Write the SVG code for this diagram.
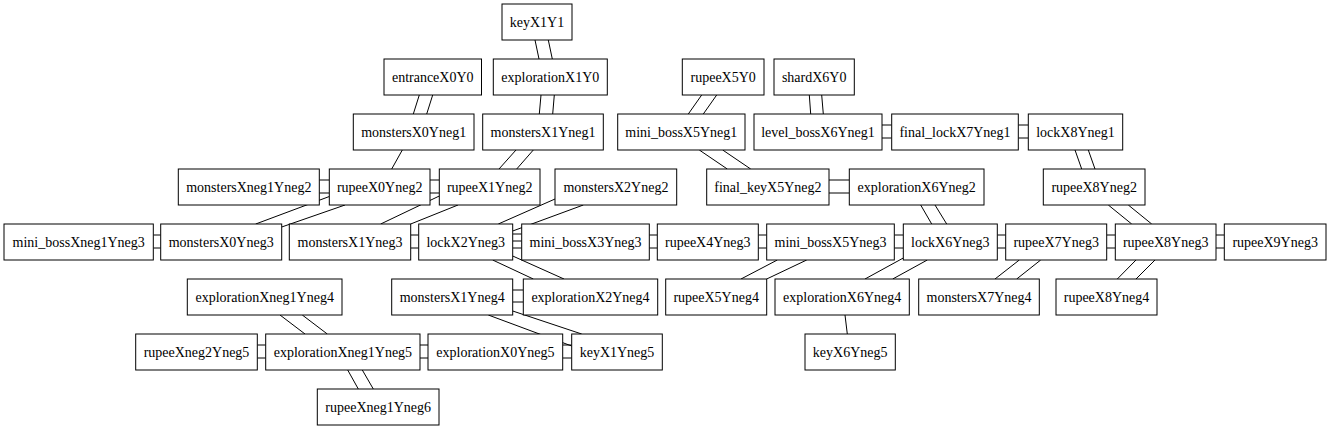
<svg xmlns="http://www.w3.org/2000/svg" width="1330" height="429" viewBox="0 0 1330 429">
<style>
.node rect{fill:#fff;stroke:#000;stroke-width:1}
.node text{font-family:"Liberation Serif","Times New Roman",serif;font-size:14px;text-anchor:middle;fill:#000}
#edges line{stroke:#000;stroke-width:1}
</style>
<rect x="0" y="0" width="1330" height="429" fill="#fff"/>
<g id="edges">
<line x1="535" y1="40" x2="539" y2="59"/><line x1="548.3" y1="40" x2="552.3" y2="59"/>
<line x1="419.3" y1="95" x2="413.3" y2="114"/><line x1="432.7" y1="95" x2="426.7" y2="114"/>
<line x1="541" y1="95" x2="539.3" y2="114"/><line x1="554.3" y1="95" x2="552.7" y2="114"/>
<line x1="402.3" y1="150" x2="391.7" y2="169"/>
<line x1="516" y1="150" x2="499" y2="169"/><line x1="533.3" y1="150" x2="516.7" y2="169"/>
<line x1="701.7" y1="95" x2="688.3" y2="114"/><line x1="716.7" y1="95" x2="703.3" y2="114"/>
<line x1="809.3" y1="95" x2="810.7" y2="114"/><line x1="821.7" y1="95" x2="823.3" y2="114"/>
<line x1="699.3" y1="150" x2="727.3" y2="169"/><line x1="722.7" y1="150" x2="750.7" y2="169"/>
<line x1="1075" y1="150" x2="1081.7" y2="169"/><line x1="1088.3" y1="150" x2="1095" y2="169"/>
<line x1="329.3" y1="196.5" x2="255.7" y2="224"/><line x1="345" y1="205" x2="281.7" y2="227"/>
<line x1="439.3" y1="196" x2="380.7" y2="224"/><line x1="458" y1="205" x2="410.7" y2="224"/>
<line x1="555" y1="199" x2="498.3" y2="224"/><line x1="583.3" y1="205" x2="512.7" y2="231"/>
<line x1="492.7" y1="260" x2="533.3" y2="279"/><line x1="512.7" y1="256" x2="564" y2="279"/>
<line x1="488.3" y1="315" x2="571.7" y2="346"/><line x1="512.7" y1="311" x2="581.7" y2="334"/>
<line x1="280" y1="315" x2="305" y2="334"/><line x1="302.3" y1="315" x2="327.3" y2="334"/>
<line x1="347.7" y1="370" x2="358.3" y2="389"/><line x1="362.3" y1="370" x2="373.3" y2="389"/>
<line x1="920.7" y1="205" x2="931.7" y2="224"/><line x1="935" y1="205" x2="946.7" y2="224"/>
<line x1="1108.3" y1="205" x2="1131.7" y2="224"/><line x1="1128.3" y1="205" x2="1151.7" y2="224"/>
<line x1="903.3" y1="258" x2="865" y2="279"/><line x1="927.3" y1="260" x2="892.7" y2="279"/>
<line x1="777.3" y1="260" x2="741" y2="279"/><line x1="806.7" y1="260" x2="766.7" y2="279"/>
<line x1="1019.3" y1="260" x2="995" y2="279"/><line x1="1040.7" y1="260" x2="1016.7" y2="279"/>
<line x1="1136" y1="260" x2="1117.3" y2="279"/><line x1="1155" y1="260" x2="1136" y2="279"/>
<line x1="845" y1="315" x2="847.3" y2="334"/>
<line x1="882" y1="125" x2="891.7" y2="125"/><line x1="882" y1="138" x2="891.7" y2="138"/>
<line x1="1018.3" y1="125" x2="1028.3" y2="125"/><line x1="1018.3" y1="138" x2="1028.3" y2="138"/>
<line x1="319.3" y1="180" x2="329.3" y2="180"/><line x1="319.3" y1="193" x2="329.3" y2="193"/>
<line x1="430" y1="180" x2="439.3" y2="180"/><line x1="430" y1="193" x2="439.3" y2="193"/>
<line x1="829" y1="180" x2="849.3" y2="180"/><line x1="829" y1="193" x2="849.3" y2="193"/>
<line x1="153.3" y1="235" x2="160.7" y2="235"/><line x1="153.3" y1="248" x2="160.7" y2="248"/>
<line x1="410.7" y1="235" x2="418.7" y2="235"/><line x1="410.7" y1="248" x2="418.7" y2="248"/>
<line x1="512.7" y1="234" x2="521.7" y2="234"/><line x1="512.7" y1="241" x2="521.7" y2="241"/><line x1="512.7" y1="248" x2="521.7" y2="248"/>
<line x1="649.3" y1="235" x2="657.3" y2="235"/><line x1="649.3" y1="248" x2="657.3" y2="248"/>
<line x1="758.3" y1="235" x2="766.7" y2="235"/><line x1="758.3" y1="248" x2="766.7" y2="248"/>
<line x1="894.3" y1="235" x2="903.3" y2="235"/><line x1="894.3" y1="248" x2="903.3" y2="248"/>
<line x1="997.3" y1="235" x2="1005.7" y2="235"/><line x1="997.3" y1="248" x2="1005.7" y2="248"/>
<line x1="1106.7" y1="235" x2="1115.3" y2="235"/><line x1="1106.7" y1="248" x2="1115.3" y2="248"/>
<line x1="1216" y1="235" x2="1224.3" y2="235"/><line x1="1216" y1="248" x2="1224.3" y2="248"/>
<line x1="512.7" y1="290" x2="523.3" y2="290"/><line x1="512.7" y1="302" x2="523.3" y2="302"/>
<line x1="257.3" y1="345" x2="265.7" y2="345"/><line x1="257.3" y1="358" x2="265.7" y2="358"/>
<line x1="420" y1="345" x2="428" y2="345"/><line x1="420" y1="358" x2="428" y2="358"/>
<line x1="562.7" y1="345" x2="571.7" y2="345"/><line x1="562.7" y1="358" x2="571.7" y2="358"/>
</g>
<g id="keyX1Y1" class="node"><rect x="502" y="4" width="70" height="36"/><text x="537" y="26.5">keyX1Y1</text></g>
<g id="entranceX0Y0" class="node"><rect x="384" y="59" width="97.5" height="36"/><text x="432.75" y="81.5">entranceX0Y0</text></g>
<g id="explorationX1Y0" class="node"><rect x="493.3" y="59" width="114" height="36"/><text x="550.3" y="81.5">explorationX1Y0</text></g>
<g id="rupeeX5Y0" class="node"><rect x="682.3" y="59" width="81.7" height="36"/><text x="723.2" y="81.5">rupeeX5Y0</text></g>
<g id="shardX6Y0" class="node"><rect x="774" y="59" width="80.3" height="36"/><text x="814.2" y="81.5">shardX6Y0</text></g>
<g id="monstersX0Yneg1" class="node"><rect x="353.3" y="114" width="120.7" height="36"/><text x="413.7" y="136.5">monstersX0Yneg1</text></g>
<g id="monstersX1Yneg1" class="node"><rect x="482.7" y="114" width="120.6" height="36"/><text x="543" y="136.5">monstersX1Yneg1</text></g>
<g id="mini_bossX5Yneg1" class="node"><rect x="617.7" y="114" width="127.3" height="36"/><text x="681.3" y="136.5">mini_bossX5Yneg1</text></g>
<g id="level_bossX6Yneg1" class="node"><rect x="754" y="114" width="128" height="36"/><text x="818" y="136.5">level_bossX6Yneg1</text></g>
<g id="final_lockX7Yneg1" class="node"><rect x="891.7" y="114" width="126.6" height="36"/><text x="955" y="136.5">final_lockX7Yneg1</text></g>
<g id="lockX8Yneg1" class="node"><rect x="1028.3" y="114" width="94.4" height="36"/><text x="1075.5" y="136.5">lockX8Yneg1</text></g>
<g id="monstersXneg1Yneg2" class="node"><rect x="178.3" y="169" width="141" height="36"/><text x="248.8" y="191.5">monstersXneg1Yneg2</text></g>
<g id="rupeeX0Yneg2" class="node"><rect x="329.3" y="169" width="100.7" height="36"/><text x="379.7" y="191.5">rupeeX0Yneg2</text></g>
<g id="rupeeX1Yneg2" class="node"><rect x="439.3" y="169" width="100.7" height="36"/><text x="489.7" y="191.5">rupeeX1Yneg2</text></g>
<g id="monstersX2Yneg2" class="node"><rect x="555" y="169" width="121.7" height="36"/><text x="615.9" y="191.5">monstersX2Yneg2</text></g>
<g id="final_keyX5Yneg2" class="node"><rect x="706.7" y="169" width="122.3" height="36"/><text x="767.9" y="191.5">final_keyX5Yneg2</text></g>
<g id="explorationX6Yneg2" class="node"><rect x="849.3" y="169" width="134.7" height="36"/><text x="916.7" y="191.5">explorationX6Yneg2</text></g>
<g id="rupeeX8Yneg2" class="node"><rect x="1043.3" y="169" width="101.7" height="36"/><text x="1094.2" y="191.5">rupeeX8Yneg2</text></g>
<g id="mini_bossXneg1Yneg3" class="node"><rect x="4" y="224" width="149.3" height="36"/><text x="78.7" y="246.5">mini_bossXneg1Yneg3</text></g>
<g id="monstersX0Yneg3" class="node"><rect x="160.7" y="224" width="121" height="36"/><text x="221.2" y="246.5">monstersX0Yneg3</text></g>
<g id="monstersX1Yneg3" class="node"><rect x="289.3" y="224" width="121.4" height="36"/><text x="350" y="246.5">monstersX1Yneg3</text></g>
<g id="lockX2Yneg3" class="node"><rect x="418.7" y="224" width="94" height="36"/><text x="465.7" y="246.5">lockX2Yneg3</text></g>
<g id="mini_bossX3Yneg3" class="node"><rect x="521.7" y="224" width="127.6" height="36"/><text x="585.5" y="246.5">mini_bossX3Yneg3</text></g>
<g id="rupeeX4Yneg3" class="node"><rect x="657.3" y="224" width="101" height="36"/><text x="707.8" y="246.5">rupeeX4Yneg3</text></g>
<g id="mini_bossX5Yneg3" class="node"><rect x="766.7" y="224" width="127.6" height="36"/><text x="830.5" y="246.5">mini_bossX5Yneg3</text></g>
<g id="lockX6Yneg3" class="node"><rect x="903.3" y="224" width="94" height="36"/><text x="950.3" y="246.5">lockX6Yneg3</text></g>
<g id="rupeeX7Yneg3" class="node"><rect x="1005.7" y="224" width="101" height="36"/><text x="1056.2" y="246.5">rupeeX7Yneg3</text></g>
<g id="rupeeX8Yneg3" class="node"><rect x="1115.3" y="224" width="100.7" height="36"/><text x="1165.7" y="246.5">rupeeX8Yneg3</text></g>
<g id="rupeeX9Yneg3" class="node"><rect x="1224.3" y="224" width="101.7" height="36"/><text x="1275.2" y="246.5">rupeeX9Yneg3</text></g>
<g id="explorationXneg1Yneg4" class="node"><rect x="187.3" y="279" width="154.7" height="36"/><text x="264.7" y="301.5">explorationXneg1Yneg4</text></g>
<g id="monstersX1Yneg4" class="node"><rect x="391.7" y="279" width="121" height="36"/><text x="452.2" y="301.5">monstersX1Yneg4</text></g>
<g id="explorationX2Yneg4" class="node"><rect x="523.3" y="279" width="134.4" height="36"/><text x="590.5" y="301.5">explorationX2Yneg4</text></g>
<g id="rupeeX5Yneg4" class="node"><rect x="665.7" y="279" width="101" height="36"/><text x="716.2" y="301.5">rupeeX5Yneg4</text></g>
<g id="explorationX6Yneg4" class="node"><rect x="775" y="279" width="134.3" height="36"/><text x="842.2" y="301.5">explorationX6Yneg4</text></g>
<g id="monstersX7Yneg4" class="node"><rect x="918.7" y="279" width="120.6" height="36"/><text x="979" y="301.5">monstersX7Yneg4</text></g>
<g id="rupeeX8Yneg4" class="node"><rect x="1056" y="279" width="101" height="36"/><text x="1106.5" y="301.5">rupeeX8Yneg4</text></g>
<g id="rupeeXneg2Yneg5" class="node"><rect x="135.7" y="334" width="121.6" height="36"/><text x="196.5" y="356.5">rupeeXneg2Yneg5</text></g>
<g id="explorationXneg1Yneg5" class="node"><rect x="265.7" y="334" width="154.3" height="36"/><text x="342.9" y="356.5">explorationXneg1Yneg5</text></g>
<g id="explorationX0Yneg5" class="node"><rect x="428" y="334" width="134.7" height="36"/><text x="495.4" y="356.5">explorationX0Yneg5</text></g>
<g id="keyX1Yneg5" class="node"><rect x="571.7" y="334" width="90.6" height="36"/><text x="617" y="356.5">keyX1Yneg5</text></g>
<g id="keyX6Yneg5" class="node"><rect x="805" y="334" width="90.3" height="36"/><text x="850.2" y="356.5">keyX6Yneg5</text></g>
<g id="rupeeXneg1Yneg6" class="node"><rect x="317.3" y="389" width="121.7" height="36"/><text x="378.2" y="411.5">rupeeXneg1Yneg6</text></g>
</svg>
